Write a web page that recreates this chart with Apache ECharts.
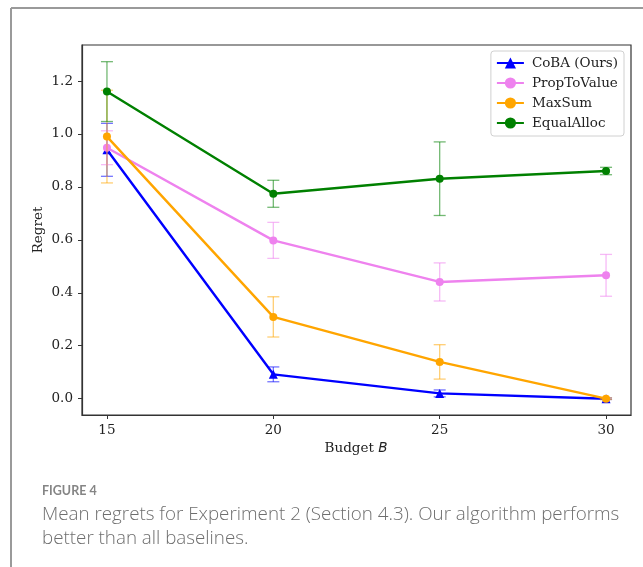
<!DOCTYPE html>
<html>
<head>
<meta charset="utf-8">
<script src="https://cdn.jsdelivr.net/npm/echarts@6/dist/echarts.min.js"></script>
<style>
  html, body { margin: 0; padding: 0; background: #ffffff; }
  #chart { width: 643px; height: 567px; }
</style>
</head>
<body>
<div id="chart"></div>
<script>
// Budget levels on the x axis
const budgets = [15, 20, 25, 30];

// Mean regret and error half-width per method
const cobaMean = [0.940, 0.092, 0.020, 0.000];
const cobaErr = [0.100, 0.028, 0.013, 0.003];
const propMean = [0.948, 0.598, 0.441, 0.466];
const propErr = [0.064, 0.068, 0.072, 0.079];
const maxSumMean = [0.990, 0.309, 0.139, 0.000];
const maxSumErr = [0.175, 0.076, 0.065, 0.003];
const equalMean = [1.160, 0.774, 0.831, 0.860];
const equalErr = [0.113, 0.051, 0.139, 0.014];

// Tick labels
const xTicks = [15, 20, 25, 30];
const yTicks = [0.0, 0.2, 0.4, 0.6, 0.8, 1.0, 1.2];

const methods = [
  { name: 'CoBA (Ours)', mean: cobaMean, err: cobaErr, color: '#0000ff', symbol: 'triangle' },
  { name: 'PropToValue', mean: propMean, err: propErr, color: '#ee82ee', symbol: 'circle' },
  { name: 'MaxSum', mean: maxSumMean, err: maxSumErr, color: '#ffa500', symbol: 'circle' },
  { name: 'EqualAlloc', mean: equalMean, err: equalErr, color: '#008000', symbol: 'circle' }
];

const serif = 'DejaVu Serif';
const axisText = { fontFamily: serif, fontSize: 13.5, color: '#222' };
const frame = '#333';

function errorBarSeries(m, i) {
  return {
    name: m.name + ' error',
    type: 'custom',
    z: 2 + i * 2,
    silent: true,
    data: budgets.map((b, k) => [b, m.mean[k] - m.err[k], m.mean[k] + m.err[k]]),
    encode: { x: 0, y: [1, 2] },
    renderItem: function (params, api) {
      const x = api.value(0);
      const lo = api.coord([x, api.value(1)]);
      const hi = api.coord([x, api.value(2)]);
      const cap = 6;
      const style = { stroke: m.color, lineWidth: 1.3, opacity: 0.55 };
      return {
        type: 'group',
        children: [
          { type: 'line', shape: { x1: lo[0], y1: lo[1], x2: hi[0], y2: hi[1] }, style: style },
          { type: 'line', shape: { x1: lo[0] - cap, y1: lo[1], x2: lo[0] + cap, y2: lo[1] }, style: style },
          { type: 'line', shape: { x1: hi[0] - cap, y1: hi[1], x2: hi[0] + cap, y2: hi[1] }, style: style }
        ]
      };
    }
  };
}

function lineSeries(m, i) {
  return {
    name: m.name,
    type: 'line',
    z: 3 + i * 2,
    data: budgets.map((b, k) => [b, m.mean[k]]),
    symbol: m.symbol,
    symbolSize: m.symbol === 'triangle' ? 9 : 8,
    showAllSymbol: true,
    lineStyle: { color: m.color, width: 2.4 },
    itemStyle: { color: m.color, borderWidth: 0 },
    emphasis: { disabled: true },
    animation: false
  };
}

const series = [];
methods.forEach((m, i) => {
  series.push(errorBarSeries(m, i));
  series.push(lineSeries(m, i));
});

const chart = echarts.init(document.getElementById('chart'), null, { renderer: 'canvas' });

chart.setOption({
  backgroundColor: '#ffffff',
  animation: false,
  grid: {
    left: 82, top: 45, right: 12, bottom: 152,
    show: true, borderColor: frame, borderWidth: 1.2, backgroundColor: 'transparent'
  },
  legend: {
    data: methods.map(m => m.name),
    orient: 'vertical',
    right: 19, top: 51,
    align: 'left',
    itemWidth: 27, itemHeight: 14, itemGap: 6,
    padding: [5, 6, 6, 5],
    backgroundColor: '#ffffff',
    borderColor: '#d0d0d0', borderWidth: 1, borderRadius: 3,
    textStyle: { fontFamily: serif, fontSize: 13.5, color: '#222', padding: [0, 0, 0, 3] }
  },
  xAxis: {
    type: 'value',
    min: 14.25, max: 30.75,
    axisLine: { show: true, onZero: false, lineStyle: { color: frame, width: 1.2 } },
    splitLine: { show: false },
    axisTick: { show: true, inside: false, length: 4, customValues: xTicks, lineStyle: { color: frame, width: 1 } },
    axisLabel: Object.assign({ margin: 8, customValues: xTicks, formatter: v => String(v) }, axisText)
  },
  yAxis: {
    type: 'value',
    min: -0.0616, max: 1.336,
    axisLine: { show: true, onZero: false, lineStyle: { color: frame, width: 1.2 } },
    splitLine: { show: false },
    axisTick: { show: true, inside: false, length: 4, customValues: yTicks, lineStyle: { color: frame, width: 1 } },
    axisLabel: Object.assign({ margin: 9, customValues: yTicks, formatter: v => v.toFixed(1) }, axisText)
  },
  graphic: [
    // card border (top and left edges)
    { type: 'line', shape: { x1: 11, y1: 8, x2: 643, y2: 8 }, style: { stroke: '#9a9a9a', lineWidth: 2 }, z: 0 },
    { type: 'line', shape: { x1: 11, y1: 8, x2: 11, y2: 567 }, style: { stroke: '#9a9a9a', lineWidth: 2 }, z: 0 },
    // axis titles
    {
      type: 'text', x: 38, y: 230, rotation: Math.PI / 2,
      style: { text: 'Regret', fontFamily: serif, fontSize: 13.5, fill: '#222', align: 'center', verticalAlign: 'middle' }
    },
    {
      type: 'text', x: 356, y: 448,
      style: {
        text: 'Budget {i|B}', fontFamily: serif, fontSize: 13.5, fill: '#222', align: 'center', verticalAlign: 'middle',
        rich: { i: { fontFamily: 'DejaVu Sans', fontStyle: 'italic', fontSize: 13.5, fill: '#222' } }
      }
    },
    // caption
    {
      type: 'text', x: 42, y: 491,
      style: { text: 'FIGURE 4', fontFamily: '"Liberation Sans Narrow", Lato', fontWeight: 'bold', fontSize: 12.5, fill: '#858585', verticalAlign: 'middle' }
    },
    {
      type: 'text', x: 42, y: 515,
      style: { text: 'Mean regrets for Experiment 2 (Section 4.3). Our algorithm performs', fontFamily: 'Open Sans', fontWeight: 300, fontSize: 18.8, fill: '#6e6e6e', verticalAlign: 'middle' }
    },
    {
      type: 'text', x: 42, y: 539,
      style: { text: 'better than all baselines.', fontFamily: 'Open Sans', fontWeight: 300, fontSize: 18.8, fill: '#6e6e6e', verticalAlign: 'middle' }
    }
  ],
  series: series
});
</script>
</body>
</html>
